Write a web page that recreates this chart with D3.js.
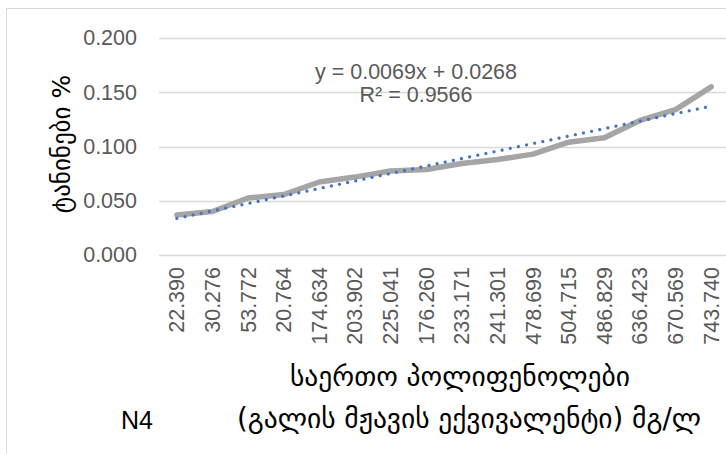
<!DOCTYPE html>
<html>
<head>
<meta charset="utf-8">
<script src="https://cdn.jsdelivr.net/npm/d3@7"></script>
<style>
  html, body { margin: 0; padding: 0; background: #fff; }
  svg { display: block; }
</style>
</head>
<body>
<svg id="chart" width="726" height="454"></svg>
<script>
// Total polyphenols (category labels) and tannin content, %
const categories = ["22.390", "30.276", "53.772", "20.764", "174.634", "203.902", "225.041", "176.260",
  "233.171", "241.301", "478.699", "504.715", "486.829", "636.423", "670.569", "743.740"];
const tannins = [0.0369, 0.0401, 0.0525, 0.0557, 0.0673, 0.0718, 0.0774, 0.0788,
  0.0843, 0.0880, 0.0930, 0.1040, 0.1080, 0.1240, 0.1340, 0.1550];
const yTicks = [0, 0.05, 0.1, 0.15, 0.2];
// Linear trendline y = slope * n + intercept (n = 1..16)
const trendSlope = 0.0069;
const trendIntercept = 0.0268;
const trendR2 = 0.9566;

const svg = d3.select("#chart");
const textColor = "#595959";
const tickFont = "'Liberation Sans', Arial, sans-serif";
const geoFont = "'DejaVu Sans', sans-serif";

// chart frame
svg.append("rect")
  .attr("x", 6.5).attr("y", 8.5).attr("width", 760).attr("height", 460)
  .attr("fill", "none").attr("stroke", "#d9d9d9").attr("stroke-width", 1);

const x = d3.scaleBand().domain(categories).range([159, 729]);
const y = d3.scaleLinear().domain([0, 0.2]).range([255, 38]);

// horizontal gridlines
svg.append("g").selectAll("line").data(yTicks).join("line")
  .attr("x1", 159).attr("x2", 729)
  .attr("y1", d => Math.round(y(d)) + 0.5).attr("y2", d => Math.round(y(d)) + 0.5)
  .attr("stroke", "#d9d9d9").attr("stroke-width", 1.5);

// y axis labels
const yAxis = d3.axisLeft(y).tickValues(yTicks).tickFormat(d3.format(".3f")).tickSize(0).tickPadding(0);
svg.append("g").attr("transform", "translate(137,0)").call(yAxis)
  .call(g => g.select(".domain").remove())
  .call(g => g.selectAll("text").attr("fill", textColor)
    .style("font-family", tickFont).style("font-size", "21.5px"));

// x axis labels (rotated)
const xAxis = d3.axisBottom(x).tickSize(0).tickPadding(0);
svg.append("g").attr("transform", "translate(0,255)").call(xAxis)
  .call(g => g.select(".domain").remove())
  .call(g => g.selectAll("text")
    .attr("fill", textColor)
    .style("font-family", tickFont).style("font-size", "21.5px")
    .attr("text-anchor", "end")
    .attr("transform", "rotate(-90)")
    .attr("x", -12).attr("y", 0).attr("dy", "0.35em"));

// data line
const line = d3.line()
  .x((d, i) => x(categories[i]) + x.bandwidth() / 2)
  .y(d => y(d));
svg.append("path").datum(tannins)
  .attr("d", line)
  .attr("fill", "none").attr("stroke", "#a5a5a5").attr("stroke-width", 5.5)
  .attr("stroke-linejoin", "round").attr("stroke-linecap", "round");

// trendline
const trend = [1, categories.length].map(n => ({ n, v: trendSlope * n + trendIntercept }));
svg.append("path").datum(trend)
  .attr("d", d3.line()
    .x(d => x(categories[d.n - 1]) + x.bandwidth() / 2)
    .y(d => y(d.v)))
  .attr("fill", "none").attr("stroke", "#4472c4").attr("stroke-width", 3.2)
  .attr("stroke-linecap", "round").attr("stroke-dasharray", "0.01,8.3");

// trendline equation
const eq = svg.append("text").attr("fill", textColor)
  .style("font-family", tickFont).style("font-size", "21.5px").attr("text-anchor", "middle");
eq.append("tspan").attr("x", 416).attr("y", 79)
  .text(`y = ${trendSlope.toFixed(4)}x + ${trendIntercept.toFixed(4)}`);
eq.append("tspan").attr("x", 416).attr("y", 102)
  .text(`R² = ${trendR2.toFixed(4)}`);

// axis titles
svg.append("text").attr("fill", "#000")
  .style("font-family", geoFont).style("font-size", "25px")
  .attr("text-anchor", "middle")
  .attr("transform", "translate(70,144) rotate(-90)")
  .text("ტანინები %");

const xt = svg.append("text").attr("fill", "#000")
  .style("font-family", geoFont).style("font-size", "27.5px").attr("text-anchor", "middle");
xt.append("tspan").attr("x", 460).attr("y", 386).text("საერთო პოლიფენოლები");
xt.append("tspan").attr("x", 469).attr("y", 428).text("(გალის მჟავის ექვივალენტი) მგ/ლ");

svg.append("text").attr("fill", "#000")
  .style("font-family", "'Liberation Sans Narrow', 'Liberation Sans', sans-serif").style("font-size", "25px")
  .attr("x", 121).attr("y", 429).text("N4");
</script>
</body>
</html>
